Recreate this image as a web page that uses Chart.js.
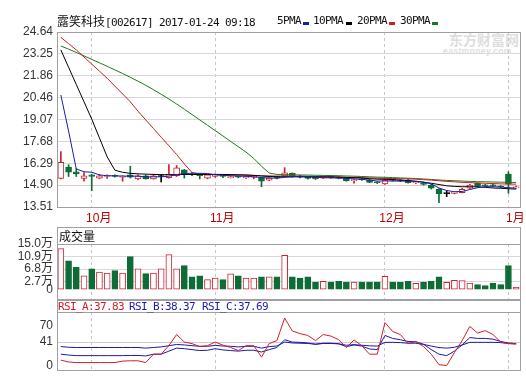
<!DOCTYPE html>
<html><head><meta charset="utf-8">
<script src="https://cdn.jsdelivr.net/npm/chart.js@4.4.1/dist/chart.umd.min.js"></script>
<style>
html,body{margin:0;padding:0;background:#fff;}
#wrap{position:relative;width:526px;height:381px;overflow:hidden;background:#fff;}
canvas{position:absolute;left:0;top:0;}
.t{position:absolute;white-space:pre;font-family:'DejaVu Sans Mono',monospace;font-size:11px;letter-spacing:-0.62px;line-height:13px;color:#111;}
.cjk{font-family:'Noto Sans CJK SC',sans-serif;font-size:12px;letter-spacing:0;line-height:13px;}
.dash{position:absolute;width:6px;height:3px;}
.wm1{position:absolute;left:449px;top:31px;font-family:'Noto Sans CJK SC',sans-serif;font-weight:bold;font-size:14px;line-height:16px;color:#dedede;letter-spacing:0px;}
.wm2{position:absolute;left:443px;top:46px;font-family:'Liberation Sans',sans-serif;font-weight:bold;font-size:8.5px;line-height:10px;color:#dedede;letter-spacing:0.4px;}
</style></head><body>
<div id="wrap">
<div class="wm1">东方财富网</div>
<div class="wm2">eastmoney.com</div>
<canvas id="cMain" width="526" height="381"></canvas>
<canvas id="cVol" width="526" height="381"></canvas>
<canvas id="cRsi" width="526" height="381"></canvas>
<div class="t" style="left:57px;top:14px"><span class="cjk">露笑科技</span>[002617] 2017-01-24 09:18</div>
<div class="t" style="left:277px;top:14px">5PMA</div><div class="dash" style="left:303px;top:22px;background:#1c1ca8"></div>
<div class="t" style="left:313px;top:14px">10PMA</div><div class="dash" style="left:346px;top:22px;background:#000"></div>
<div class="t" style="left:357px;top:14px">20PMA</div><div class="dash" style="left:389px;top:22px;background:#d01c24"></div>
<div class="t" style="left:400px;top:14px">30PMA</div><div class="dash" style="left:432px;top:22px;background:#1a7a1a"></div>
<div class="t cjk" style="left:59px;top:229px;font-size:12px">成交量</div>
<div class="t" style="left:58px;top:300px;color:#d0202a">RSI_A:37.83</div>
<div class="t" style="left:129px;top:300px;color:#1a1aaa">RSI_B:38.37</div>
<div class="t" style="left:202px;top:300px;color:#1a1aaa">RSI_C:37.69</div>
</div>
<script>
const categories = ['', '', '', '', '10月', '', '', '', '', '', '', '', '', '', '', '', '', '', '', '',
  '11月', '', '', '', '', '', '', '', '', '', '', '', '', '', '', '', '', '', '', '',
  '', '', '12月', '', '', '', '', '', '', '', '', '', '', '', '', '', '', '', '1月', ''];

const open = [15.33, 16.05, 15.75, 15.33, 15.55, 15.35, 15.45, 15.52, 15.40, 15.55,
  15.30, 15.50, 15.30, 15.45, 15.38, 15.50, 15.88, 15.62, 15.60, 15.35,
  15.45, 15.52, 15.38, 15.45, 15.36, 15.40, 15.37, 15.22, 15.42, 15.48,
  15.65, 15.48, 15.42, 15.40, 15.34, 15.42, 15.40, 15.34, 15.18, 15.30,
  15.23, 15.07, 14.97, 15.26, 15.22, 15.23, 15.06, 15.05, 14.91, 14.64,
  14.36, 14.38, 14.42, 14.70, 15.02, 14.92, 14.92, 14.84, 15.61, 14.72];
const close = [16.35, 15.72, 15.62, 15.50, 15.45, 15.50, 15.52, 15.46, 15.46, 15.40,
  15.50, 15.30, 15.50, 15.45, 15.60, 16.00, 15.60, 15.56, 15.50, 15.55,
  15.58, 15.45, 15.42, 15.40, 15.45, 15.45, 15.16, 15.35, 15.38, 15.69,
  15.45, 15.40, 15.32, 15.30, 15.42, 15.38, 15.35, 15.18, 15.26, 15.24,
  15.08, 15.05, 15.23, 15.20, 15.18, 15.06, 15.08, 14.94, 14.70, 14.36,
  14.36, 14.46, 14.64, 14.91, 14.82, 14.86, 14.86, 14.78, 14.96, 14.80];
const high = [17.03, 16.20, 15.95, 15.70, 15.60, 15.58, 15.55, 15.56, 15.50, 16.10,
  15.55, 15.55, 15.60, 15.55, 16.20, 16.15, 15.90, 15.70, 15.62, 15.60,
  15.62, 15.56, 15.50, 15.50, 15.50, 15.48, 15.40, 15.38, 15.46, 16.01,
  15.68, 15.52, 15.45, 15.44, 15.45, 15.46, 15.44, 15.38, 15.30, 15.34,
  15.28, 15.12, 15.30, 15.30, 15.26, 15.28, 15.12, 15.08, 14.95, 14.68,
  14.55, 14.48, 14.70, 14.95, 15.05, 14.95, 14.96, 14.88, 15.76, 14.84];
const low = [15.30, 15.45, 15.45, 15.15, 14.55, 15.30, 15.32, 15.40, 15.15, 15.35,
  15.25, 15.28, 15.28, 15.10, 15.35, 15.45, 15.35, 15.50, 15.30, 15.30,
  15.40, 15.38, 15.35, 15.36, 15.32, 15.30, 14.80, 15.18, 15.30, 15.44,
  15.40, 15.36, 15.28, 15.26, 15.32, 15.34, 15.30, 15.15, 15.02, 15.20,
  15.05, 15.00, 14.95, 15.16, 15.12, 15.02, 15.00, 14.90, 14.65, 13.78,
  14.17, 14.34, 14.40, 14.68, 14.78, 14.80, 14.82, 14.74, 14.38, 14.70];

const ma5 = [20.63, 18.34, 15.93, 15.75, 15.72, 15.55, 15.50, 15.49, 15.48, 15.47,
  15.47, 15.42, 15.43, 15.43, 15.47, 15.57, 15.63, 15.66, 15.65, 15.64,
  15.56, 15.53, 15.50, 15.48, 15.46, 15.43, 15.38, 15.36, 15.34, 15.40,
  15.44, 15.46, 15.45, 15.42, 15.38, 15.36, 15.35, 15.33, 15.30, 15.27,
  15.22, 15.16, 15.17, 15.16, 15.16, 15.15, 15.14, 15.09, 14.98, 14.72,
  14.56, 14.48, 14.50, 14.62, 14.74, 14.80, 14.80, 14.78, 14.74, 14.70];
const ma10 = [23.5, 22.4, 21.3, 20.2, 19.1, 17.9, 16.7, 15.85, 15.72, 15.65,
  15.62, 15.60, 15.58, 15.57, 15.56, 15.57, 15.58, 15.58, 15.58, 15.58,
  15.58, 15.58, 15.57, 15.56, 15.55, 15.52, 15.48, 15.45, 15.43, 15.43,
  15.43, 15.43, 15.42, 15.42, 15.42, 15.42, 15.41, 15.39, 15.37, 15.35,
  15.31, 15.28, 15.27, 15.25, 15.22, 15.19, 15.15, 15.09, 15.02, 14.94,
  14.86, 14.82, 14.80, 14.80, 14.79, 14.76, 14.72, 14.70, 14.67, 14.65];
const ma20 = [24.3, 23.9, 23.5, 23.05, 22.6, 22.15, 21.7, 21.2, 20.7, 20.2,
  19.6, 19.05, 18.5, 17.95, 17.4, 16.85, 16.25, 15.7, 15.6, 15.58,
  15.57, 15.56, 15.55, 15.54, 15.53, 15.52, 15.5, 15.49, 15.48, 15.48,
  15.48, 15.47, 15.46, 15.45, 15.44, 15.43, 15.42, 15.4, 15.39, 15.38,
  15.36, 15.34, 15.33, 15.32, 15.31, 15.3, 15.28, 15.25, 15.22, 15.18,
  15.14, 15.11, 15.08, 15.06, 15.04, 15.02, 15.0, 14.98, 14.97, 14.96];
const ma30 = [23.75, 23.55, 23.34, 23.12, 22.9, 22.68, 22.46, 22.23, 22.0, 21.76,
  21.51, 21.25, 20.97, 20.68, 20.38, 20.06, 19.73, 19.39, 19.05, 18.71,
  18.37, 18.03, 17.68, 17.34, 17.0, 16.6, 16.1, 15.67, 15.58, 15.57,
  15.56, 15.55, 15.54, 15.53, 15.52, 15.51, 15.5, 15.48, 15.47, 15.45,
  15.43, 15.41, 15.4, 15.38, 15.36, 15.34, 15.32, 15.29, 15.26, 15.23,
  15.2, 15.18, 15.16, 15.14, 15.12, 15.11, 15.1, 15.09, 15.08, 15.07];

const volume = [13.5, 9.5, 7.35, 4.6, 6.9, 5.8, 5.5, 6.25, 5.5, 10.85,
  6.9, 5.3, 5.5, 6.9, 11.5, 6.9, 7.9, 4.2, 4.6, 3.3,
  3.85, 3.3, 5.2, 4.6, 3.85, 3.85, 4.2, 4.2, 4.2, 11.3,
  4.2, 3.85, 4.2, 2.55, 2.75, 2.55, 2.75, 2.55, 2.55, 2.55,
  2.55, 2.55, 4.4, 2.55, 2.45, 2.75, 2.1, 2.55, 2.75, 4.2,
  2.45, 3.1, 3.0, 2.2, 1.7, 1.35, 2.2, 1.7, 7.9, 0.9];

const rsiA = [9.7, 6.6, 5.5, 5.5, 5.5, 5.5, 5.5, 5.5, 8.0, 8.6,
  8.6, 5.5, 20.0, 20.0, 35, 54, 41, 38.3, 33.2, 34.7,
  41, 35.7, 31.6, 26.3, 34.7, 34.7, 14.9, 38.3, 43.5, 82.6,
  60, 55.6, 52.4, 43.5, 54, 51.3, 45, 31.6, 44.6, 34.7,
  20, 20, 74.8, 59.2, 54, 38.3, 42, 33.2, 20, 1.9,
  0.3, 22.7, 43.5, 68, 56.6, 60.7, 54, 41, 38.3, 37.83];
const rsiB = [20, 18.5, 17.5, 17.5, 17.5, 17.5, 17.5, 17.5, 17.5, 17.8,
  17.8, 17, 20, 20, 25.3, 30.5, 29.5, 27.9, 26.3, 26.8,
  29.5, 27.4, 26.3, 25.3, 26.8, 26.8, 23.8, 27.9, 31.6, 45,
  41, 40.5, 39.5, 37, 39, 39, 38, 33, 36, 34,
  29, 28, 52.4, 47.3, 45, 42, 41.5, 37, 28, 20,
  17.5, 25.3, 36, 48.8, 47.3, 47.3, 46, 42, 39.4, 38.37];
const rsiC = [33.2, 32, 31.6, 31.6, 31.6, 31.6, 31.6, 31.6, 31.6, 31.6,
  31.6, 30.5, 31.6, 32.6, 34.7, 36.8, 36, 34.7, 33.7, 33.7,
  35.2, 34.2, 33.7, 32.6, 33.7, 33.7, 30.5, 33.2, 34.2, 41,
  39.4, 39, 38.5, 37.5, 38.5, 38.5, 38, 35.5, 36.5, 35.5,
  34.5, 34, 40.5, 40.5, 40, 39, 39, 37, 34, 31.5,
  30.5, 32, 36, 40.5, 40.5, 40.5, 40.5, 40, 38.5, 37.69];

const priceTicks = [13.51, 14.90, 16.29, 17.68, 19.07, 20.46, 21.86, 23.25, 24.64];
const volTicks = [0, 2.7, 6.8, 10.9, 15.0];
const rsiTicks = [0, 41, 70];

const RED = '#cc2230', GREEN = '#0e6d36', DOJI = '#000';
const FONT = "'Liberation Sans', 'Noto Sans CJK SC', sans-serif";

const candleColor = categories.map((_, i) => close[i] > open[i] ? RED : (close[i] < open[i] ? GREEN : DOJI));
const bodyFill = categories.map((_, i) => close[i] > open[i] ? '#ffffff' : candleColor[i]);
const volColor = categories.map((_, i) => close[i] >= open[i] ? RED : GREEN);
const volFill = categories.map((_, i) => close[i] >= open[i] ? '#ffffff' : GREEN);

const framePlugin = {
  id: 'frame',
  afterDraw(chart, args, opts) {
    const { ctx, chartArea: a } = chart;
    const L = Math.round(a.left) + 0.5, R = Math.round(a.right) + 0.5;
    const T = Math.round(a.top) + 0.5, B = Math.round(a.bottom) + 0.5;
    const H = opts.header || 0;
    ctx.save();
    ctx.setLineDash([]);
    ctx.strokeStyle = '#a0a0a0';
    ctx.lineWidth = 1;
    ctx.strokeRect(L, T - H, R - L, B - T + H);
    if (H) { ctx.beginPath(); ctx.moveTo(L, T); ctx.lineTo(R, T); ctx.stroke(); }
    ctx.restore();
  }
};

function xScale(showLabels) {
  return {
    type: 'category',
    offset: true,
    grid: {
      offset: false, drawTicks: false, lineWidth: 1,
      color: c => (categories[c.index] ? '#c4c4c4' : 'rgba(0,0,0,0)')
    },
    border: { display: false, dash: [3, 3] },
    ticks: {
      display: showLabels, autoSkip: false, maxRotation: 0, minRotation: 0,
      padding: 4, labelOffset: 7, color: '#c00000',
      font: { family: FONT, size: 12 }
    },
    afterFit: s => { s.height = showLabels ? 20 : 0; }
  };
}

function yScale(min, max, ticks, fmt, gridColor) {
  return {
    min, max,
    afterBuildTicks: s => { s.ticks = ticks.map(v => ({ value: v })); },
    afterFit: s => { s.width = 57; },
    grid: { drawTicks: false, lineWidth: 1, color: gridColor },
    border: { display: false },
    ticks: { autoSkip: false, padding: 4, color: '#333', font: { family: FONT, size: 12 }, callback: fmt }
  };
}

const common = {
  responsive: false, animation: false, events: [],
  plugins: { legend: { display: false }, tooltip: { enabled: false } }
};

function lineDs(data, color, order) {
  return { type: 'line', data, borderColor: color, borderWidth: 1, pointRadius: 0, tension: 0, fill: false, order };
}

new Chart(document.getElementById('cMain'), {
  type: 'bar',
  data: {
    labels: categories,
    datasets: [
      { data: low.map((l, i) => [l, high[i]]), backgroundColor: candleColor, borderWidth: 0,
        barThickness: 1, grouped: false, order: 6 },
      { data: open.map((o, i) => [o, close[i]]), backgroundColor: bodyFill, borderColor: candleColor,
        borderWidth: 1, borderSkipped: false, barThickness: 6, minBarLength: 1, grouped: false, order: 5 },
      lineDs(ma30, '#1a7a1a', 4),
      lineDs(ma20, '#d01c24', 3),
      lineDs(ma10, '#000000', 2),
      lineDs(ma5, '#1c1ca8', 1)
    ]
  },
  options: Object.assign({}, common, {
    layout: { padding: { left: 0, right: 6, top: 32, bottom: 154 } },
    scales: {
      x: xScale(true),
      y: yScale(13.51, 24.64, priceTicks, v => v.toFixed(2),
        c => (c.tick && c.tick.value === 14.90 ? '#e6c6c6' : '#d8d8d8'))
    },
    plugins: Object.assign({}, common.plugins, { frame: { header: 0 } })
  }),
  plugins: [framePlugin]
});

new Chart(document.getElementById('cVol'), {
  type: 'bar',
  data: {
    labels: categories,
    datasets: [
      { data: volume, backgroundColor: volFill, borderColor: volColor, borderWidth: 1,
        borderSkipped: false, barThickness: 6 }
    ]
  },
  options: Object.assign({}, common, {
    layout: { padding: { left: 0, right: 6, top: 244, bottom: 82 } },
    scales: {
      x: xScale(false),
      y: yScale(-3.03, 15.0, volTicks, v => (v === 0 ? '0' : v.toFixed(1) + '万'),
        c => (c.tick && c.tick.value === 0 ? 'rgba(0,0,0,0)' : '#d8d8d8'))
    },
    plugins: Object.assign({}, common.plugins, { frame: { header: 17 } })
  }),
  plugins: [framePlugin]
});

new Chart(document.getElementById('cRsi'), {
  type: 'line',
  data: {
    labels: categories,
    datasets: [
      lineDs(rsiC, '#1a1aaa', 3),
      lineDs(rsiB, '#1a1aaa', 2),
      lineDs(rsiA, '#d0202a', 1)
    ]
  },
  options: Object.assign({}, common, {
    layout: { padding: { left: 0, right: 6, top: 312, bottom: 5 } },
    scales: {
      x: xScale(false),
      y: yScale(-7, 93, rsiTicks, v => String(v),
        c => (c.tick && c.tick.value === 41 ? '#d8c8cc' : 'rgba(0,0,0,0)'))
    },
    plugins: Object.assign({}, common.plugins, { frame: { header: 12 } })
  }),
  plugins: [framePlugin]
});
</script>
</body></html>
